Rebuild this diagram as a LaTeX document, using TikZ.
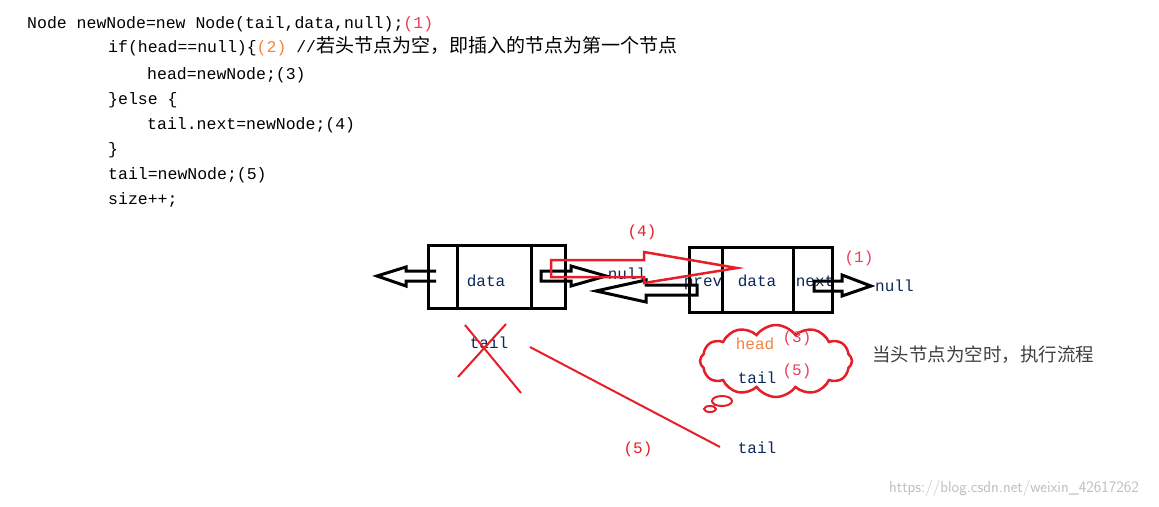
\documentclass[tikz,border=0pt]{standalone}
\usepackage{fontspec}
\setmainfont{Liberation Mono}
\newfontfamily\cjk{Noto Sans CJK SC}
\usetikzlibrary{shapes.symbols}
\definecolor{rd}{RGB}{230,30,40}
\definecolor{pk}{RGB}{235,60,90}
\definecolor{og}{RGB}{245,130,60}
\definecolor{ink}{RGB}{10,40,90}
\begin{document}
\begin{tikzpicture}[x=1pt,y=-1pt,
  code/.style={anchor=base west,inner sep=0,font=\fontsize{16.5}{18}\selectfont},
  lbl/.style={inner sep=0,font=\fontsize{16}{18}\selectfont,text=ink},
  box/.style={draw,line width=3pt},
  harrow/.style={draw,line width=3pt,line join=miter},
  rarrow/.style={draw=rd,line width=2.5pt}]
\useasboundingbox (0,0) rectangle (1159,506);
% code
\node[code] (l1) at (27,28) {Node newNode=new Node(tail,data,null);\textcolor{pk}{(1)}};
\node[code] (l2) at (108,52) {if(head==null)\{\textcolor{og}{(2)} //{\cjk\fontsize{19}{20}\selectfont 若头节点为空，即插入的节点为第一个节点}};
\node[code] (l3) at (147,79) {head=newNode;(3)};
\node[code] (l4) at (108,104) {\}else \{};
\node[code] (l5) at (147,129) {tail.next=newNode;(4)};
\node[code] (l6) at (108,154) {\}};
\node[code] (l7) at (108,179) {tail=newNode;(5)};
\node[code] (l8) at (108,204) {size++;};
% left box
\draw[box] (428,245) rectangle (565,308);
\draw[box] (457,245) -- (457,308) (531,245) -- (531,308);
\node[lbl] (d1) at (486,281) {data};
% right box
\node[lbl] (pv) at (703,284) {prev};
\node[lbl] (nx) at (815,281) {next};
\draw[box] (689,247) rectangle (832,312);
\draw[box] (722,247) -- (722,312) (793,247) -- (793,312);
\node[lbl] (d2) at (757,281) {data};
\node[lbl] (n1) at (627,274) {null};
\node[lbl,anchor=west] (n2) at (875,286) {null};
% hollow arrows
\draw[harrow] (436,271) -- (406,271) -- (406,267) -- (377,276) -- (406,286) -- (406,281) -- (436,281);
\draw[harrow] (541,271) -- (571,271) -- (571,266) -- (606,276) -- (571,286) -- (571,281) -- (541,281) -- cycle;
\draw[harrow] (697,285) -- (646,285) -- (646,280) -- (596,291) -- (646,302) -- (646,295) -- (697,295) -- cycle;
\draw[harrow] (814,281) -- (842,281) -- (842,275) -- (871,286) -- (842,296) -- (842,291) -- (814,291) -- cycle;
\draw[rarrow] (551,260) -- (644,260) -- (644,252) -- (737,268) -- (644,283) -- (644,277) -- (551,277) -- cycle;
% labels
\node[inner sep=0,text=rd,font=\fontsize{16}{18}\selectfont] (p4) at (642,232) {(4)};
\node[inner sep=0,text=pk,font=\fontsize{16}{18}\selectfont] (p1) at (859,258) {(1)};
% crossed tail
\node[lbl] (t1) at (489,343) {tail};
\draw[rd,line width=2pt] (465,325) -- (521,393) (506,324) -- (458,377);
% cloud
\node[cloud,draw=rd,line width=2.5pt,cloud puffs=12,cloud puff arc=110,aspect=2.1,minimum width=152pt,minimum height=72pt,inner sep=0] (cl) at (776,361) {};
\draw[rd,line width=2pt] (722,401) ellipse (10pt and 5pt) (710,409) ellipse (6pt and 3pt);
\node[inner sep=0,text=og,font=\fontsize{16}{18}\selectfont] (hd) at (755,344) {head};
\node[inner sep=0,text=pk,font=\fontsize{16}{18}\selectfont] (p3) at (797,338) {(3)};
\node[lbl] (t2) at (757,378) {tail};
\node[inner sep=0,text=pk,font=\fontsize{16}{18}\selectfont] (p5) at (797,371) {(5)};
\node[inner sep=0,font=\cjk\fontsize{18.5}{20}\selectfont,text=black!75] (cn) at (983,355) {当头节点为空时，执行流程};
% bottom tail
\coordinate (ls) at (530,347);
\coordinate (le) at (720,447);
\draw[rd,line width=2pt] (ls) -- (le);
\node[lbl] (t3) at (757,448) {tail};
\node[inner sep=0,text=rd,font=\fontsize{16}{18}\selectfont] (p5b) at (638,449) {(5)};
\node[inner sep=0,text=black!25,font=\fontsize{16}{18}\selectfont\sffamily] (wm) at (1014,488) {https://blog.csdn.net/weixin\_42617262};
\end{tikzpicture}
\end{document}
